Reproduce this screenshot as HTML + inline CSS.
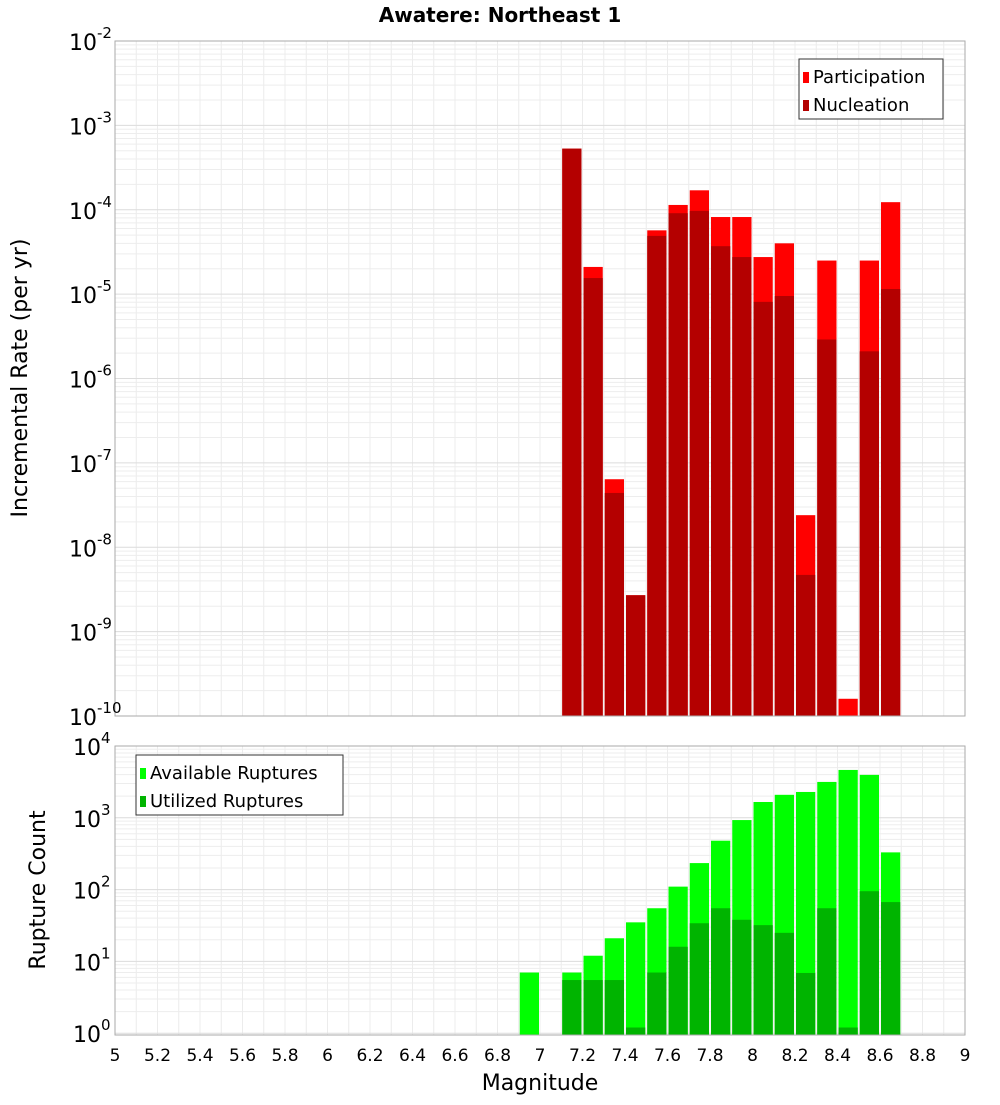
<!DOCTYPE html>
<html><head><meta charset="utf-8"><style>
body{margin:0;background:#fff;font-family:"Liberation Sans","DejaVu Sans",sans-serif}
svg text{font-family:"DejaVu Sans","Liberation Sans",sans-serif}
</style></head><body>
<svg id="c" width="1000" height="1100" xmlns="http://www.w3.org/2000/svg"></svg>
<script>
const binStarts=[7.1,7.2,7.3,7.4,7.5,7.6,7.7,7.8,7.9,8.0,8.1,8.2,8.3,8.4,8.5,8.6];
const participation=[5.3e-4,2.1e-5,6.4e-8,2.7e-9,5.7e-5,1.14e-4,1.7e-4,8.2e-5,8.2e-5,2.75e-5,4.0e-5,2.4e-8,2.5e-5,1.6e-10,2.5e-5,1.23e-4];
const nucleation=[5.3e-4,1.55e-5,4.4e-8,2.7e-9,4.9e-5,9.1e-5,9.7e-5,3.7e-5,2.75e-5,8.1e-6,9.5e-6,4.7e-9,2.9e-6,0,2.1e-6,1.15e-5];
const countBins=[6.9,7.1,7.2,7.3,7.4,7.5,7.6,7.7,7.8,7.9,8.0,8.1,8.2,8.3,8.4,8.5,8.6];
const available=[7,7,12,21,35,55,110,234,480,930,1660,2090,2290,3160,4640,3960,330];
const utilized=[0,5.5,5.5,5.5,1.2,7,16,34,55,38,32,25,6.9,55,1.2,95,67];
const xTicks=[5,5.2,5.4,5.6,5.8,6,6.2,6.4,6.6,6.8,7,7.2,7.4,7.6,7.8,8,8.2,8.4,8.6,8.8,9];
const topExps=[-2,-3,-4,-5,-6,-7,-8,-9,-10];
const botExps=[4,3,2,1,0];

const NS="http://www.w3.org/2000/svg",svg=document.getElementById('c');
function el(t,a,p){const e=document.createElementNS(NS,t);for(const k in a)e.setAttribute(k,a[k]);(p||svg).appendChild(e);return e;}
const X0=115,X1=965;
const xs=m=>X0+(m-5)/4*(X1-X0);
const T={y0:41,y1:716,lmax:-2,lmin:-10};
const B={y0:746,y1:1035,lmax:4,lmin:-0.025};
const ys=(P,v)=>P.y0+(P.lmax-Math.log10(v))/(P.lmax-P.lmin)*(P.y1-P.y0);

function grid(P,name){
  const g=el('g',{});
  
  
  for(let m=5;m<=9.001;m+=0.1){el('line',{x1:xs(m),x2:xs(m),y1:P.y0,y2:P.y1,stroke:'#ececec','stroke-width':1},g);}
  for(let e=Math.floor(P.lmin);e<P.lmax;e++)for(let k=1;k<10;k++){
    const lv=e+Math.log10(k); if(lv<P.lmin||lv>P.lmax)continue;
    const y=ys(P,Math.pow(10,lv));
    el('line',{x1:X0,x2:X1,y1:y,y2:y,stroke:k==1?'#dcdcdc':'#ededed','stroke-width':1},g);
  }
}
grid(T,'top-grid');grid(B,'bottom-grid');

function bar(P,m,v,col,name){
  if(!(v>0))return;
  const y=Math.max(P.y0,ys(P,v));
  const r=el('rect',{x:xs(m)+1,y:y,width:xs(m+0.1)-xs(m)-2,height:P.y1-y,fill:col});
  
  
}
binStarts.forEach((m,i)=>{bar(T,m,participation[i],'#ff0000','participation-bar');bar(T,m,nucleation[i],'#b40000','nucleation-bar');});
countBins.forEach((m,i)=>{bar(B,m,available[i],'#00ff00','available-bar');bar(B,m,utilized[i],'#00b400','utilized-bar');});

[T,B].forEach((P,j)=>{const r=el('rect',{x:X0,y:P.y0,width:X1-X0,height:P.y1-P.y0,fill:'none',stroke:'#aaa'});
});

function ylab(P,e,name){
  const y=ys(P,Math.pow(10,e));
  const t=el('text',{x:X0-10,y:y+9,'text-anchor':'end','font-size':22,fill:'#000'});
  
  const a=el('tspan',{},t);a.textContent='10';
  const b=el('tspan',{dy:-12,'font-size':15},t);b.textContent=String(e);
  t.setAttribute('x',X0-10-(String(e).length*9)+ (String(e).length*9));
  t.setAttribute('text-anchor','start');
  t.setAttribute('x',X0-42-(String(e).length>1?4:0));
}
topExps.forEach(e=>ylab(T,e,'top-y-tick-label'));
botExps.forEach(e=>ylab(B,e,'bottom-y-tick-label'));

xTicks.forEach(m=>{const t=el('text',{x:xs(m),y:1061,'text-anchor':'middle','font-size':17,fill:'#000'});

t.textContent=String(Math.round(m*10)/10);});

function txt(s,a,name){const t=el('text',a);t.textContent=s;return t;}
txt('Awatere: Northeast 1',{x:500,y:22,'text-anchor':'middle','font-size':20,'font-weight':'bold'},'chart-title');
txt('Magnitude',{x:540,y:1090,'text-anchor':'middle','font-size':22},'x-axis-title');
txt('Incremental Rate (per yr)',{x:27,y:378,'text-anchor':'middle','font-size':22,transform:'rotate(-90 27 378)'},'top-y-axis-title');
txt('Rupture Count',{x:45,y:890,'text-anchor':'middle','font-size':22,transform:'rotate(-90 45 890)'},'bottom-y-axis-title');

function legend(x,y,w,items,name){
  const g=el('g',{});
  el('rect',{x:x,y:y,width:w,height:60,fill:'#fff',stroke:'#333'},g);
  items.forEach((it,i)=>{
    const sw=el('rect',{x:x+4,y:y+13+i*28,width:6,height:11,fill:it[1]},g);
    
    const t=el('text',{x:x+14,y:y+24+i*28,'font-size':18},g);t.textContent=it[0];
    
  });
}
legend(799,59,144,[['Participation','#ff0000'],['Nucleation','#b40000']],'top-legend');
legend(136,755,207,[['Available Ruptures','#00ff00'],['Utilized Ruptures','#00b400']],'bottom-legend');
</script>
</body></html>
